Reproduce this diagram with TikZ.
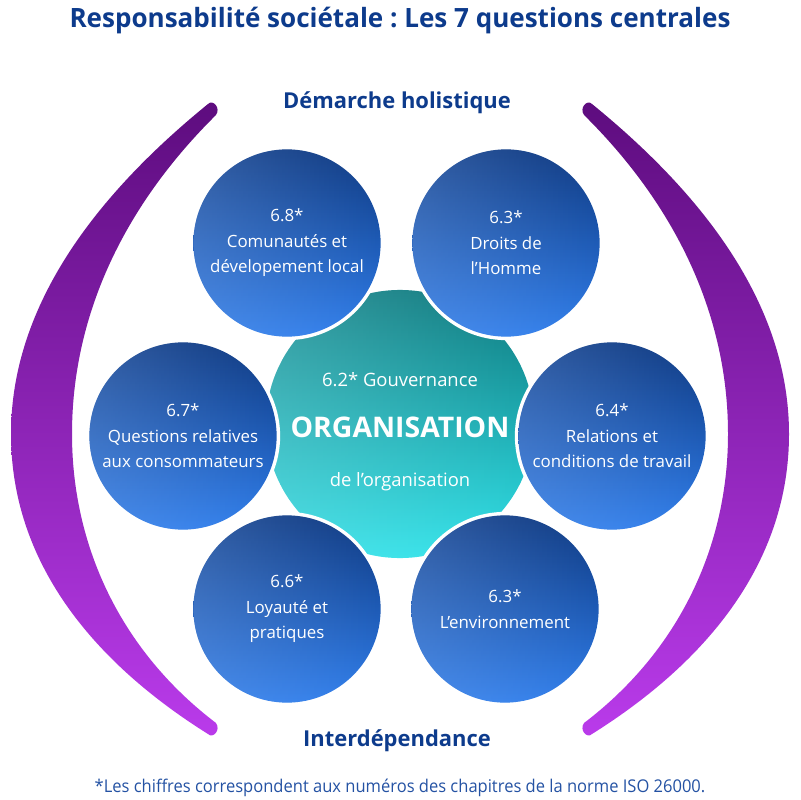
\documentclass[tikz,border=0pt]{standalone}
\usepackage{fontspec}
\setmainfont{Open Sans}
\usepackage{graphicx}
\usetikzlibrary{fadings}
\frenchspacing
\definecolor{isoblue}{HTML}{0D3B8C}
\definecolor{isonote}{HTML}{2452A3}
\definecolor{balltop}{HTML}{0D3880}
\definecolor{ballbot}{HTML}{2F7EEC}
\definecolor{balllite}{HTML}{8AB0EA}
\definecolor{orgtop}{HTML}{0C777C}
\definecolor{orgbot}{HTML}{2FE3EA}
\definecolor{orglite}{HTML}{9CE4E8}
\definecolor{crestop}{HTML}{5D0C7E}
\definecolor{cresbot}{HTML}{BA3BEB}
\tikzfading[name=fadeleft, left color=transparent!0, right color=transparent!100]
\tikzset{
  topic/.style={
    circle,
    inner sep=0pt,
    minimum size=4.68cm,
    preaction={draw=white, line width=5pt},
    top color=balltop,
    bottom color=ballbot,
    postaction={fill=balllite, fill opacity=0.3, path fading=fadeleft},
    align=center,
    text=white,
    font=\fontsize{12}{18.2}\selectfont
  },
  orgball/.style={
    circle,
    inner sep=0pt,
    minimum size=6.7cm,
    top color=orgtop,
    bottom color=orgbot,
    postaction={fill=orglite, fill opacity=0.3, path fading=fadeleft}
  },
  orgtext/.style={text=white, font=\fontsize{13.1}{15}\selectfont},
  headline/.style={text=isoblue, font=\bfseries\fontsize{15.6}{18}\selectfont},
  crescent/.pic={
    \shade[top color=crestop, bottom color=cresbot]
      (208,104) .. controls (90,200) and (11,310) .. (11,434)
      .. controls (11,560) and (90,660) .. (208,734)
      .. controls (213,739) and (221,730) .. (216,723)
      .. controls (120,650) and (72,545) .. (72,434)
      .. controls (72,320) and (120,210) .. (216,115)
      .. controls (221,108) and (213,99) .. (208,104) -- cycle;
  }
}

\begin{document}
\begin{tikzpicture}[x=0.025cm, y=-0.025cm]
\useasboundingbox (0,0) rectangle (800,800);
% arcs round the topics
\pic (lcres) at (0,0) {crescent};
\pic[xscale=-1] (rcres) at (800,0) {crescent};
% centre
\node[orgball] (org) at (400,424) {};
\node[orgtext] (gov) at (400,380) {6.2* Gouvernance};
\node[text=white, font=\bfseries\fontsize{20.2}{23}\selectfont] (orgname) at (400,427) {ORGANISATION};
\node[orgtext] (orgsub) at (400,482) {de l’organisation};
% the six questions
\node[topic] (q68) at (287,243) {6.8*\\Comunautés et\\dévelopement local};
\node[topic] (q63h) at (506,243) {6.3*\\Droits de\\l’Homme};
\node[topic] (q67) at (183,436) {6.7*\\Questions relatives\\aux consommateurs};
\node[topic] (q64) at (612,436) {6.4*\\Relations et\\conditions de travail};
\node[topic] (q66) at (287,609) {6.6*\\Loyauté et\\pratiques};
\node[topic] (q63e) at (505,609) {6.3*\\L’environnement};
% titles
\node[text=isoblue, font=\bfseries\fontsize{18.9}{22}\selectfont] (title) at (400,21)
  {\scalebox{0.98}[1]{Responsabilité sociétale : Les 7 questions centrales}};
\node[headline] (holis) at (397,103) {Démarche holistique};
\node[headline] (inter) at (397,741) {Interdépendance};
\node[text=isonote, font=\fontsize{12.5}{15}\selectfont] (note) at (400,788)
  {\scalebox{0.94}[1]{*Les chiffres correspondent aux numéros des chapitres de la norme ISO 26000.}};
\end{tikzpicture}
\end{document}
